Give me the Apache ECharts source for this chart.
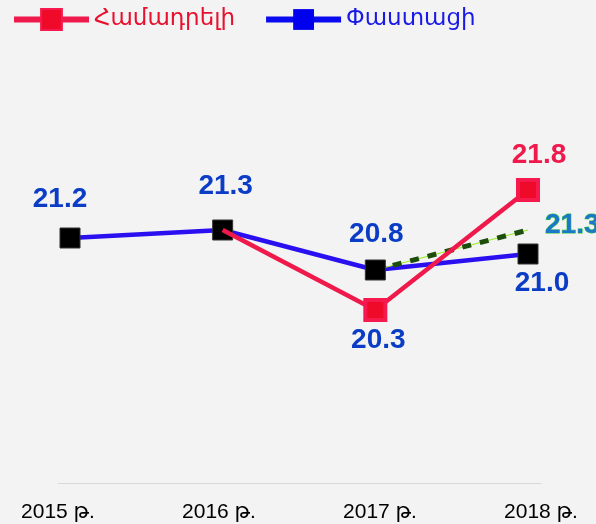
<!DOCTYPE html>
<html>
<head>
<meta charset="utf-8">
<script src="https://cdn.jsdelivr.net/npm/echarts@6/dist/echarts.min.js"></script>
<style>
  html, body { margin: 0; padding: 0; background: #f3f3f3; }
  #chart { width: 596px; height: 524px; }
</style>
</head>
<body>
<div id="chart"></div>
<script>
const years = ["2015 թ.", "2016 թ.", "2017 թ.", "2018 թ."];
const actual = [21.2, 21.3, 20.8, 21.0];        // Փաստացի
const comparable = [null, 21.3, 20.3, 21.8];    // Համադրելի
const trend = [null, null, 20.8, 21.3];

const numFont = "'Liberation Sans', Arial, sans-serif";
const labelBlue = "#0b3cc6";
const oneDecimal = p => Number(p.value).toFixed(1);

// label placement per point (kept apart from the values)
const actualLabels = [
    { position: "top", distance: 14, offset: [-10, 0] },
    { position: "top", distance: 19, offset: [3, 0] },
    { position: "top", distance: 11, offset: [1, 0] },
    { position: "bottom", distance: 5, offset: [14, 0] }
];
const comparableLabels = [
    null,
    null,
    { position: "bottom", distance: 4, offset: [3, 0], color: labelBlue },
    { position: "top", distance: 9, offset: [11, 0], color: "#f0194c" }
];

let chart = echarts.init(document.getElementById("chart"));

chart.setOption({
    backgroundColor: "#f3f3f3",
    animation: false,
    legend: {
        left: 6,
        top: 3,
        itemWidth: 75,
        itemHeight: 26,
        itemGap: 28,
        textStyle: { fontFamily: "'DejaVu Sans', sans-serif", fontSize: 23 },
        data: [
            {
                name: "Համադրելի",
                textStyle: { color: "#e8102f" },
                lineStyle: { width: 6 }
            },
            {
                name: "Փաստացի",
                textStyle: { color: "#1a1ae6" },
                lineStyle: { width: 6, color: "#0a0af0" },
                itemStyle: { color: "#0000ee", borderWidth: 0 }
            }
        ]
    },
    grid: [
        { left: 70, right: 68, top: 14, bottom: 30 },
        { left: 58, right: 55, top: 14, bottom: 41 }
    ],
    xAxis: [
        { gridIndex: 0, type: "category", data: years, boundaryGap: false, show: false },
        {
            gridIndex: 1, type: "category", data: years, boundaryGap: false,
            axisLine: { lineStyle: { color: "#d9d9d9" } },
            axisTick: { show: false },
            axisLabel: { color: "#000", fontSize: 21, margin: 19, fontFamily: "'Liberation Sans', 'DejaVu Sans', sans-serif" }
        }
    ],
    yAxis: [
        { gridIndex: 0, type: "value", min: 18, max: 24, show: false },
        { gridIndex: 1, type: "value", show: false }
    ],
    series: [
        {
            name: "Փաստացի",
            type: "line",
            data: actual.map((v, i) => ({
                value: v,
                label: Object.assign({ show: true }, actualLabels[i])
            })),
            symbol: "rect",
            symbolSize: 20,
            lineStyle: { color: "#2a10f0", width: 4.5 },
            itemStyle: { color: "#000", borderColor: "#333", borderWidth: 1 },
            label: { color: labelBlue, fontSize: 28, fontWeight: "bold", fontFamily: numFont, formatter: oneDecimal }
        },
        {
            type: "line",
            data: trend,
            symbol: "none",
            lineStyle: { color: "#99ee22", width: 1.2 },
            z: 3
        },
        {
            type: "line",
            data: trend.map((v, i) => ({
                value: v,
                label: { show: i === 3 }
            })),
            symbol: "circle",
            symbolSize: 2,
            itemStyle: { color: "rgba(0,0,0,0)" },
            lineStyle: { color: "#1d4d0d", width: 5, type: [9, 9] },
            label: {
                position: "right", distance: 16, offset: [0, -5],
                color: "#1b78c8", textBorderColor: "#33cc33", textBorderWidth: 0.8,
                fontSize: 28, fontWeight: "bold", fontFamily: numFont, formatter: oneDecimal
            },
            z: 3
        },
        {
            name: "Համադրելի",
            type: "line",
            data: comparable.map((v, i) => {
                if (v === null) return null;
                let p = { value: v };
                if (comparableLabels[i]) {
                    p.label = Object.assign({ show: true }, comparableLabels[i]);
                } else {
                    p.symbol = "none";
                }
                return p;
            }),
            symbol: "rect",
            symbolSize: 20,
            lineStyle: { color: "#f0194c", width: 4.5 },
            itemStyle: { color: "#f00a2a", borderColor: "#f5194d", borderWidth: 4 },
            label: { fontSize: 28, fontWeight: "bold", fontFamily: numFont, formatter: oneDecimal },
            z: 4
        }
    ]
});
</script>
</body>
</html>
